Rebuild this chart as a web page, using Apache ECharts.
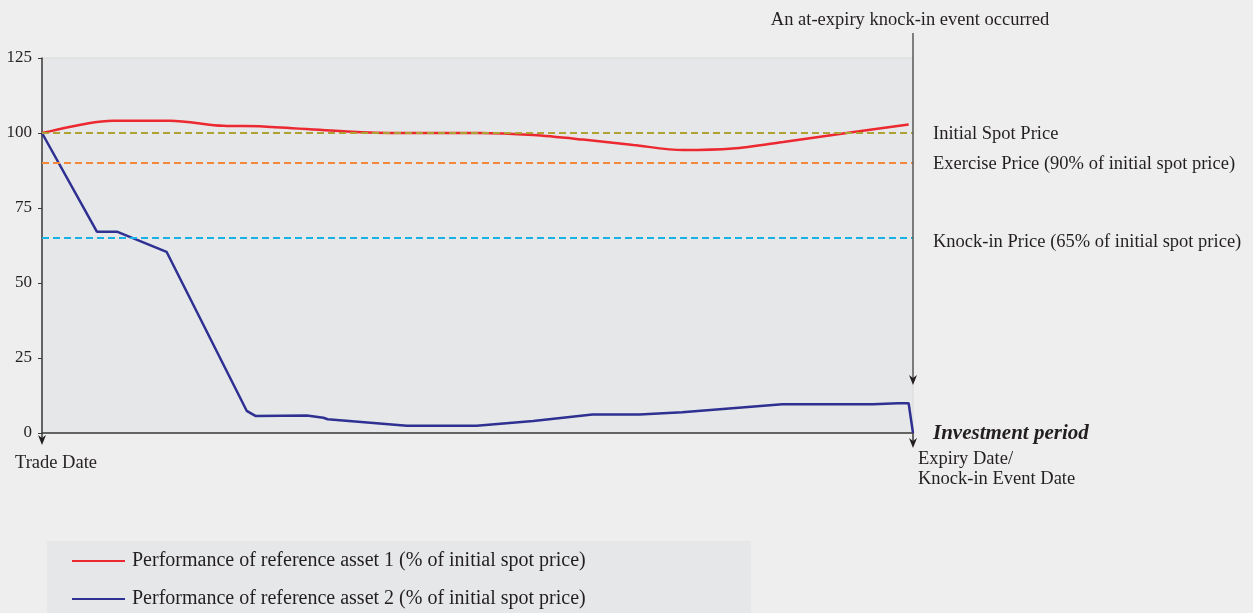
<!DOCTYPE html>
<html><head><meta charset="utf-8">
<script src="https://cdn.jsdelivr.net/npm/echarts@6/dist/echarts.min.js"></script>
<style>html,body{margin:0;padding:0;background:#eeeeee;}#c{width:1253px;height:613px;}</style>
</head><body><div id="c"></div>
<script>
// Time axis: 0 = trade date, 100 = expiry date
const asset1Time = [0, 5.2, 8.2, 14.7, 20.8, 25.4, 35, 41.1, 50.3, 56.4, 62.1, 67.9, 73.6, 79.3, 85.1, 92.8, 99.5];
const asset1Vals = [100, 103.2, 104.1, 104.1, 102.4, 102.2, 100.5, 100, 100, 99.3, 97.8, 96, 94.3, 94.8, 97, 100.2, 102.8];
const asset2Time = [0, 6.3, 8.6, 14.3, 23.5, 24.5, 30.4, 32.3, 32.8, 41.9, 49.9, 56.4, 63.2, 68.6, 73.5, 85.0, 95.4, 98.3, 99.5, 100];
const asset2Vals = [100, 67.1, 67.1, 60.4, 7.4, 5.7, 5.8, 5.1, 4.6, 2.4, 2.4, 4, 6.2, 6.2, 6.9, 9.6, 9.6, 9.9, 9.9, 0];
const yTicks = [0, 25, 50, 75, 100, 125];
const refLevels = [100, 90, 65];
const refLabels = ['Initial Spot Price', 'Exercise Price (90% of initial spot price)', 'Knock-in Price (65% of initial spot price)'];
const seriesNames = ['Performance of reference asset 1 (% of initial spot price)', 'Performance of reference asset 2 (% of initial spot price)'];
const annotTop = 'An at-expiry knock-in event occurred';
const periodLabel = 'Investment period';
const tradeLabel = 'Trade Date';
const expiryLabel = 'Expiry Date/\nKnock-in Event Date';

const FONT = '"Liberation Serif", "DejaVu Serif", serif';
const TXT = '#231f20';
const refColors = ['#aea232', '#f3873a', '#19b2e6'];

const chart = echarts.init(document.getElementById('c'), null, {renderer: 'canvas'});

const markData = refLevels.map((v, i) => ({
  yAxis: v,
  lineStyle: {color: refColors[i], type: [7, 4], width: 2},
  label: {show: true, position: 'end', distance: 20, formatter: refLabels[i],
          color: TXT, fontFamily: FONT, fontSize: 18.5, offset: [0, i === 2 ? 4 : 1]}
}));

chart.setOption({
  backgroundColor: '#eeeeee',
  animation: false,
  grid: {left: 42, right: 340, top: 58, bottom: 180, show: true,
         backgroundColor: '#e6e7e9', borderColor: '#d8d8d6', borderWidth: 1},
  legend: {
    orient: 'vertical', left: 72, top: 551, padding: 0, itemWidth: 53, itemHeight: 2, itemGap: 18,
    icon: 'rect', data: seriesNames,
    textStyle: {fontFamily: FONT, fontSize: 20, color: TXT, lineHeight: 20, padding: [0, 0, 0, 2]}
  },
  xAxis: {type: 'value', min: 0, max: 100, axisLabel: {show: false}, axisTick: {show: false},
          splitLine: {show: false},
          axisLine: {lineStyle: {color: '#3a3a3a', width: 1.5}}},
  yAxis: {type: 'value', min: 0, max: 125, interval: 25,
          splitLine: {show: false},
          axisLine: {show: true, lineStyle: {color: '#3a3a3a', width: 1.5}},
          axisTick: {show: true, length: 4, lineStyle: {color: '#3a3a3a'}},
          axisLabel: {margin: 10, fontFamily: FONT, fontSize: 17, color: TXT}},
  series: [
    {name: seriesNames[0], type: 'line', smooth: 0.3, symbol: 'none',
     data: asset1Time.map((t, i) => [t, asset1Vals[i]]),
     lineStyle: {color: '#ec2830', width: 2.5}, itemStyle: {color: '#ec2830'}, z: 3,
     markLine: {silent: true, symbol: ['none', 'none'], animation: false, data: markData}},
    {name: seriesNames[1], type: 'line', symbol: 'none',
     data: asset2Time.map((t, i) => [t, asset2Vals[i]]),
     lineStyle: {color: '#2e3192', width: 2.5}, itemStyle: {color: '#2e3192'}, z: 4}
  ]
});

// Annotations positioned through the chart's own scales
const p0 = chart.convertToPixel({gridIndex: 0}, [0, 0]);
const pEnd = chart.convertToPixel({gridIndex: 0}, [100, 0]);
const pTop = chart.convertToPixel({gridIndex: 0}, [100, 125]);
const pArrow = chart.convertToPixel({gridIndex: 0}, [100, 16]);
const AX = '#3a3a3a';
function arrowDown(x, y) {
  return {type: 'polygon', shape: {points: [[x - 4, y - 10], [x, y - 7], [x + 4, y - 10], [x, y]]},
          style: {fill: '#231f20'}, z: 10};
}
chart.setOption({
  graphic: [
    {type: 'rect', shape: {x: 47, y: 541, width: 704, height: 80}, style: {fill: '#e6e7e9'}, z: -1},
    // vertical knock-in annotation line
    {type: 'line', shape: {x1: pEnd[0], y1: pTop[1] - 25, x2: pEnd[0], y2: pArrow[1] - 3},
     style: {stroke: '#5a5a5a', lineWidth: 1.5}, z: 10},
    arrowDown(pEnd[0], pArrow[1]),
    // bottom arrows
    {type: 'line', shape: {x1: pEnd[0], y1: pEnd[1], x2: pEnd[0], y2: pEnd[1] + 12},
     style: {stroke: AX, lineWidth: 1.5}, z: 10},
    arrowDown(pEnd[0], pEnd[1] + 15),
    {type: 'line', shape: {x1: p0[0], y1: p0[1], x2: p0[0], y2: p0[1] + 9},
     style: {stroke: AX, lineWidth: 1.5}, z: 10},
    arrowDown(p0[0], p0[1] + 12),
    {type: 'text', x: pEnd[0] - 3, y: 20, style: {text: annotTop, fontFamily: FONT, fontSize: 18.5,
      fill: TXT, textAlign: 'center', textVerticalAlign: 'middle'}, z: 10},
    {type: 'text', x: pEnd[0] + 20, y: pEnd[1] + 1, style: {text: periodLabel, fontFamily: FONT, fontSize: 21,
      fontWeight: 'bold', fontStyle: 'italic', fill: TXT, textAlign: 'left', textVerticalAlign: 'middle'}, z: 10},
    {type: 'text', x: 15, y: p0[1] + 30, style: {text: tradeLabel, fontFamily: FONT, fontSize: 18.5,
      fill: TXT, textAlign: 'left', textVerticalAlign: 'middle'}, z: 10},
    {type: 'text', x: pEnd[0] + 5, y: p0[1] + 16, style: {text: expiryLabel, fontFamily: FONT, fontSize: 18.5,
      lineHeight: 20, fill: TXT, textAlign: 'left', textVerticalAlign: 'top'}, z: 10}
  ]
});
</script></body></html>
